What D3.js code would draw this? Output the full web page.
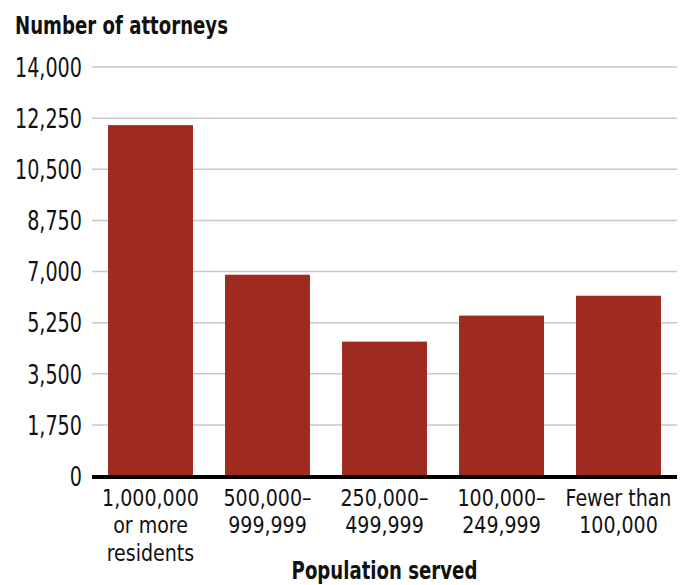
<!DOCTYPE html>
<html>
<head>
<meta charset="utf-8">
<script src="https://cdn.jsdelivr.net/npm/d3@7/dist/d3.min.js"></script>
<style>
  body { margin: 0; background: #fff; }
  text { font-family: "DejaVu Sans Condensed", "Liberation Sans Narrow", sans-serif; fill: #111; }
  .grid line { stroke: #c8c8c8; stroke-width: 1.5; }
</style>
</head>
<body>
<div class="chart"></div>
<script>
var svgWidth = 689;
var svgHeight = 585;

// data
var categories = ["1,000,000|or more|residents", "500,000–|999,999", "250,000–|499,999", "100,000–|249,999", "Fewer than|100,000"];
var attorneys = [12010, 6890, 4600, 5490, 6170];
var yTicks = [0, 1750, 3500, 5250, 7000, 8750, 10500, 12250, 14000];

var margin = { top: 67, right: 12, bottom: 109, left: 92 };
var width = svgWidth - margin.left - margin.right;
var height = svgHeight - margin.top - margin.bottom;

// the original uses a condensed face, squeeze the text horizontally
var squeeze = 0.82;
var squeezeX = 0.9;   // x labels are a bit smaller so lines don't collide
var squeezeBold = 0.84;

var svg = d3.select(".chart")
  .append("svg")
  .attr("width", svgWidth)
  .attr("height", svgHeight);

var chartGroup = svg.append("g")
  .attr("transform", `translate(${margin.left}, ${margin.top})`);

var xScale = d3.scaleBand()
  .domain(categories)
  .range([0, width])
  .paddingInner(0.274)
  .paddingOuter(0.137);

var yScale = d3.scaleLinear()
  .domain([0, 14000])
  .range([height, 0]);

// gridlines
chartGroup.append("g")
  .attr("class", "grid")
  .selectAll("line")
  .data(yTicks.filter(d => d > 0))
  .enter()
  .append("line")
  .attr("x1", 0)
  .attr("x2", width)
  .attr("y1", d => yScale(d))
  .attr("y2", d => yScale(d));

// y axis labels
var leftAxis = d3.axisLeft(yScale)
  .tickValues(yTicks)
  .tickFormat(d3.format(","))
  .tickSize(0)
  .tickPadding(10);

var yAxisG = chartGroup.append("g").call(leftAxis);
yAxisG.select(".domain").remove();
yAxisG.selectAll("text")
  .attr("font-size", "26px")
  .attr("font-family", null)
  .attr("x", -10 / squeeze)
  .attr("dy", "0.36em")
  .attr("transform", `scale(${squeeze},1)`);

// bars
chartGroup.selectAll(".bar")
  .data(attorneys)
  .enter()
  .append("rect")
  .attr("class", "bar")
  .attr("x", (d, i) => xScale(categories[i]))
  .attr("y", d => yScale(d))
  .attr("width", xScale.bandwidth())
  .attr("height", d => height - yScale(d))
  .attr("fill", "#9f2a20");

// baseline
chartGroup.append("line")
  .attr("x1", 0)
  .attr("x2", width)
  .attr("y1", height + 1)
  .attr("y2", height + 1)
  .attr("stroke", "#000")
  .attr("stroke-width", 4);

// x labels (multi-line)
var xLabels = chartGroup.selectAll(".xLabel")
  .data(categories)
  .enter()
  .append("text")
  .attr("class", "xLabel")
  .attr("text-anchor", "middle")
  .attr("font-size", "23.5px")
  .attr("transform", d => `translate(${xScale(d) + xScale.bandwidth() / 2}, ${height + 30})`);

xLabels.selectAll("tspan")
  .data(d => d.split("|"))
  .enter()
  .append("tspan")
  .attr("x", 0)
  .attr("y", (d, i) => i * 27.5)
  .text(d => d);

xLabels.attr("transform", d => `translate(${xScale(d) + xScale.bandwidth() / 2}, ${height + 30}) scale(${squeezeX},1)`);

// axis titles
svg.append("text")
  .attr("transform", `translate(15, 34) scale(${squeezeBold},1)`)
  .attr("font-size", "24px")
  .attr("font-weight", "bold")
  .text("Number of attorneys");

chartGroup.append("text")
  .attr("transform", `translate(${width / 2}, ${height + 103}) scale(${squeezeBold},1)`)
  .attr("text-anchor", "middle")
  .attr("font-size", "24px")
  .attr("font-weight", "bold")
  .text("Population served");
</script>
</body>
</html>
